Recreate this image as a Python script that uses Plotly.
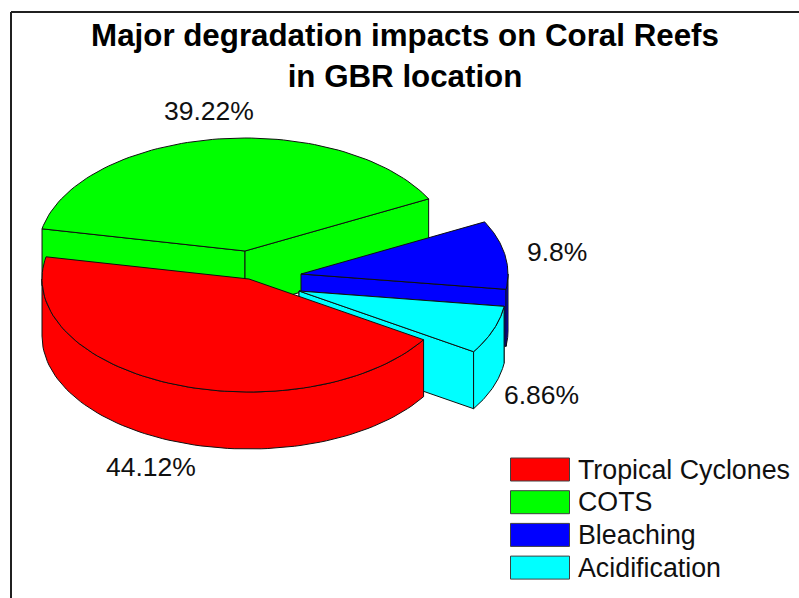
import numpy as np
import plotly.graph_objects as go

categories = ["Tropical Cyclones", "COTS", "Bleaching", "Acidification"]
shares = [44.12, 39.22, 9.8, 6.86]
colors = ["#ff0000", "#00ff00", "#0000ff", "#00ffff"]
title_text = "Major degradation impacts on Coral Reefs<br>in GBR location"

# Layout of the drawing (pixel-like axis units)
W, H = 799, 598
RX, RY, DEPTH = 207, 113, 57
START = 32.5
TIPS = {"Tropical Cyclones": (249, 279), "COTS": (245, 251), "Bleaching": (301, 274), "Acidification": (299, 291)}
LABEL_POS = {"Tropical Cyclones": (151, 467), "COTS": (209, 111), "Bleaching": (557, 252), "Acidification": (541, 395)}
EDGE = "#101010"

angles = {}
a = START
for c, s in zip(categories, shares):
    angles[c] = (a, a + s * 3.6)
    a += s * 3.6


def arc(tip, t0, t1, drop=0):
    t = np.radians(np.linspace(t0, t1, 80))
    return tip[0] + RX * np.cos(t), tip[1] + RY * np.sin(t) + drop


fig = go.Figure()


def poly(xs, ys, color, name):
    fig.add_trace(go.Scatter(x=list(xs), y=list(ys), mode="lines", fill="toself", fillcolor=color,
                             line=dict(color=EDGE, width=1), name=name, hoverinfo="name", showlegend=False))


def draw(cat, walls):
    color = colors[categories.index(cat)]
    tip = TIPS[cat]
    t0, t1 = angles[cat]
    ax, ay = arc(tip, t0, t1)
    for tt in ([t0] if "start" in walls else []) + ([t1] if "end" in walls else []):
        ex, ey = arc(tip, tt, tt)
        poly([tip[0], ex[0], ex[0], tip[0], tip[0]],
             [tip[1], ey[0], ey[0] + DEPTH, tip[1] + DEPTH, tip[1]], color, cat)
    if "outer" in walls:
        # only the part of the rim that faces the viewer (angles 0-180 modulo 360)
        if t0 < 180:
            lo, hi = t0, min(t1, 180)
        else:
            lo, hi = max(t0, 360), t1
        bx, by = arc(tip, lo, hi)
        poly(np.r_[bx, bx[::-1], bx[0]], np.r_[by, by[::-1] + DEPTH, by[0]], color, cat)
    poly(np.r_[tip[0], ax, tip[0]], np.r_[tip[1], ay, tip[1]], color, cat)


draw("COTS", ("start", "end"))
draw("Bleaching", ("outer", "end"))
draw("Acidification", ("start", "end", "outer"))
draw("Tropical Cyclones", ("outer",))

# Frame
fig.add_shape(type="line", x0=11, x1=799, y0=12, y1=12, line=dict(color="#202020", width=2))
fig.add_shape(type="line", x0=11, x1=11, y0=12, y1=598, line=dict(color="#202020", width=2))

FONT = "Liberation Sans, Arial, sans-serif"
for c, s in zip(categories, shares):
    fig.add_annotation(x=LABEL_POS[c][0], y=LABEL_POS[c][1], text=f"{s}%", showarrow=False,
                       font=dict(family=FONT, size=26.5, color="#101010"))

# Legend
for i, (c, col) in enumerate(zip(categories, colors)):
    y = 469.5 + i * 32.7
    fig.add_shape(type="rect", x0=510.5, x1=569.5, y0=y - 11.5, y1=y + 11.5, fillcolor=col,
                  line=dict(color="#404040", width=1))
    fig.add_annotation(x=575.5, y=y, text=c, xanchor="left", showarrow=False,
                       font=dict(family=FONT, size=26.8, color="#101010"))

fig.update_layout(
    width=W, height=H, margin=dict(l=0, r=0, t=0, b=0),
    paper_bgcolor="white", plot_bgcolor="white", showlegend=False,
    title=dict(text=title_text, x=405 / W, xanchor="center", y=1 - 46 / H, yanchor="top",
               font=dict(family=FONT, size=31.3, color="black", weight="bold")),
    xaxis=dict(range=[0, W], visible=False, fixedrange=True),
    yaxis=dict(range=[H, 0], visible=False, fixedrange=True),
)
fig.write_html("out.html", config={"displayModeBar": False},
               post_script="document.body.style.margin='0';document.body.style.overflow='hidden';")
